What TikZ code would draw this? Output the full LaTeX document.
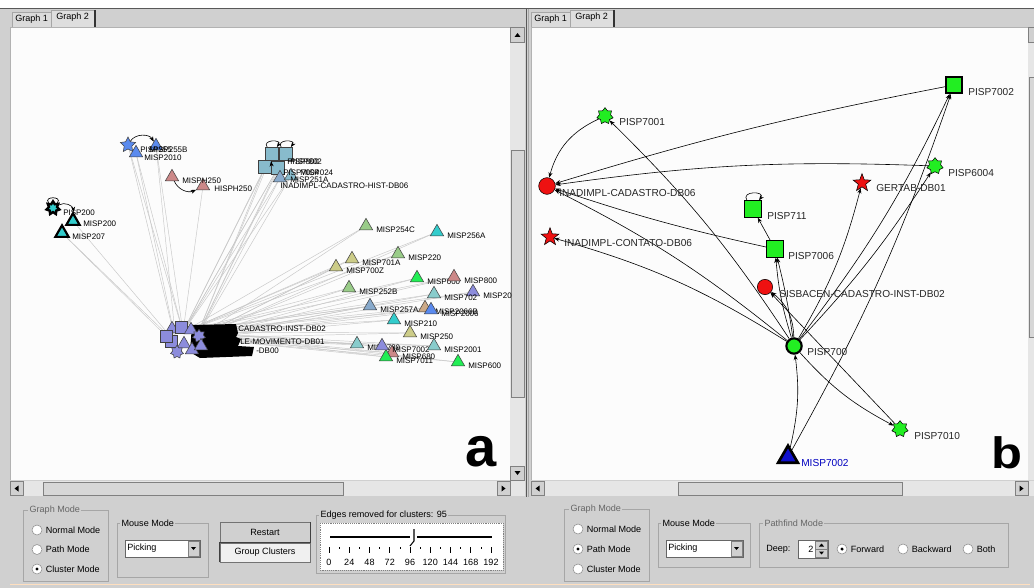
\documentclass[tikz,border=0pt]{standalone}
\usepackage{fontspec}
\setmainfont{Liberation Sans}
\usepackage{graphicx}
\usetikzlibrary{positioning, arrows.meta, shapes.geometric}

\definecolor{winbg}{HTML}{D0D0D0}
\definecolor{trackbg}{HTML}{E6E6E6}
\definecolor{jgreen}{HTML}{22EE22}
\definecolor{jred}{HTML}{EE1111}
\definecolor{jblue}{HTML}{1010CC}
\definecolor{cviolet}{HTML}{8C8CDC}
\definecolor{cblue}{HTML}{5A8AEE}
\definecolor{cpink}{HTML}{CC8888}
\definecolor{cgreen}{HTML}{99CC88}
\definecolor{ccyan}{HTML}{33CCCC}
\definecolor{cteal}{HTML}{88CCCC}
\definecolor{colive}{HTML}{CCCC88}
\definecolor{csteel}{HTML}{88AACC}
\definecolor{ctan}{HTML}{CCAA88}
\definecolor{bgreen}{HTML}{22EE55}
\definecolor{csqc}{HTML}{88BBCC}
\definecolor{edgegray}{HTML}{C8C8C8}

\pgfdeclarelayer{back}
\pgfdeclarelayer{bg}
\pgfsetlayers{back,bg,main}

\begin{document}
\begin{tikzpicture}[x=0.75pt, y=0.75pt,
    gui/.style={font=\fontsize{6.8}{8}\selectfont, inner sep=0pt, anchor=west},
    ttl/.style={gui, fill=winbg, inner xsep=1pt, inner ysep=0.5pt},
    lab/.style={font=\fontsize{7.6}{8}\selectfont, inner sep=0pt, anchor=west, text=black!85},
    slab/.style={font=\fontsize{6}{7}\selectfont, inner sep=0pt, anchor=west},
    gsq/.style={draw, rectangle, fill=jgreen, minimum size=12.5pt, inner sep=0pt},
    gcirc/.style={draw, circle, fill=jgreen, minimum size=11.5pt, inner sep=0pt},
    rcirc/.style={draw, circle, fill=jred, minimum size=12.5pt, inner sep=0pt},
    gstar/.style={draw, star, star points=7, star point ratio=1.45, fill=jgreen, minimum size=12.5pt, inner sep=0pt},
    rstar/.style={draw, star, star points=5, star point ratio=2.4, fill=jred, minimum size=14pt, inner sep=0pt},
    tri/.style={draw=black!75, regular polygon, regular polygon sides=3, minimum size=11.5pt, inner sep=0pt},
    vsq/.style={draw=black!75, rectangle, minimum size=9pt, inner sep=0pt},
    vstar/.style={draw=black!75, star, star points=7, star point ratio=1.5, fill=cviolet, minimum size=10pt, inner sep=0pt},
    arr/.style={-{Stealth[length=4pt, width=3pt]}, line width=0.45pt},
    gedge/.style={draw=edgegray, line width=0.35pt},
    radio/.style={draw=black!45, fill=white, circle, minimum size=7.5pt, inner sep=0pt},
    grp/.style={draw=black!35, line width=0.4pt},
    btn/.style={gui, anchor=center, draw=black!55, fill=winbg, rectangle, minimum width=67.5pt, minimum height=15pt},
]
\useasboundingbox (0,0) rectangle (1034,-588);

% window chrome
\begin{pgfonlayer}{back}
\fill[winbg] (0,0) rectangle (1034,-588);
\fill[white] (0,0) rectangle (1034,-8);
\draw[black!65, line width=0.8pt] (0,-8.5) -- (1034,-8.5);
\fill[white!99!black] (10,-27) rectangle (510,-480);
\fill[white!99!black] (531,-27) rectangle (1028,-480);
\draw[black!30] (10,-480) |- (510,-27);
\draw[black!30] (531,-480) |- (1028,-27);
\foreach \ox in {0,519} {
  \draw[black!35, fill=black!14] (12+\ox,-27) -- (12+\ox,-12) -- (51+\ox,-12) -- (51+\ox,-27);
  \draw[black!35, fill=winbg!70!white] (51+\ox,-27) -- (51+\ox,-10) -- (95+\ox,-10) -- (95+\ox,-27);
  \draw[black!80, line width=0.8pt] (95+\ox,-10) -- (95+\ox,-27);
}
% scroll bars
\fill[trackbg] (510,-27) rectangle (525,-480);
\draw[black!50, fill=winbg] (510.5,-27.5) rectangle (524.5,-42);
\draw[black!50, fill=winbg!85!white] (511,-150) rectangle (524,-397);
\draw[black!50, fill=winbg] (510.5,-466) rectangle (524.5,-480);
\fill (514.5,-37) -- (520.5,-37) -- (517.5,-33) -- cycle;
\fill (514.5,-471) -- (520.5,-471) -- (517.5,-475) -- cycle;
\fill[trackbg] (1028,-27) rectangle (1034,-480);
\draw[black!50, fill=winbg] (1028.5,-27.5) rectangle (1034,-42);
\draw[black!50, fill=winbg!85!white] (1029,-77) rectangle (1034,-337);
\fill[trackbg] (10,-481) rectangle (525,-496);
\draw[black!50, fill=winbg] (10.5,-481.5) rectangle (23,-495.5);
\draw[black!50, fill=winbg!85!white] (43,-482) rectangle (343,-495);
\draw[black!50, fill=winbg] (497,-481.5) rectangle (510,-495.5);
\fill (18.5,-485.5) -- (18.5,-491.5) -- (14.5,-488.5) -- cycle;
\fill (501.5,-485.5) -- (501.5,-491.5) -- (505.5,-488.5) -- cycle;
\fill[trackbg] (531,-481) rectangle (1034,-496);
\draw[black!50, fill=winbg] (531.5,-481.5) rectangle (544,-495.5);
\draw[black!50, fill=winbg!85!white] (678,-482) rectangle (902,-495);
\draw[black!50, fill=winbg] (1015,-481.5) rectangle (1028,-495.5);
\fill (539.5,-485.5) -- (539.5,-491.5) -- (535.5,-488.5) -- cycle;
\fill (1019.5,-485.5) -- (1019.5,-491.5) -- (1023.5,-488.5) -- cycle;
\draw[black!65] (526,-9) -- (526,-497);
\draw[black!35] (528,-9) -- (528,-497);
\draw[orange!25] (10,-584) -- (1030,-584);
\end{pgfonlayer}

\node[gui] (tab1a) at (15,-19.5) {Graph 1};
\node[gui] (tab2a) at (56,-17.5) {Graph 2};
\node[gui] (tab1b) at (534,-19.5) {Graph 1};
\node[gui] (tab2b) at (575,-17.5) {Graph 2};

% ---- graph a ----
\coordinate (hubA) at (183,-332);
\coordinate (hubB) at (196,-338);
\coordinate (hubC) at (176,-343);

\node[star, star points=5, star point ratio=2, draw=black!75, fill=cblue, minimum size=12pt, inner sep=0pt] (b1) at (128,-145) {};
\node[tri, fill=cblue] (b2) at (136,-153) {};
\node[tri, fill=cblue] (b3) at (156,-146) {};
\node[slab] (b1-t) at (140,-150) {PISP255};
\node[slab] (b3-t) at (149,-150) {MISP255B};
\node[slab] (b2-t) at (144,-158) {MISP2010};
\draw[arr] (b1) to[bend left=60] (b3);

\node[tri, fill=cpink] (mh) at (172,-177) {};
\node[tri, fill=cpink] (hh) at (203,-186) {};
\node[slab] (mh-t) at (182,-181) {MISPH250};
\node[slab] (hh-t) at (214,-189) {HISPH250};
\draw[arr] (mh) to[bend right=45] (hh);

\node[vsq, fill=csqc, minimum size=10pt] (sq1) at (272,-154) {};
\node[vsq, fill=csqc, minimum size=10pt] (sq2) at (286,-154) {};
\node[vsq, fill=csqc, minimum size=10pt] (sq3) at (265,-167) {};
\node[vsq, fill=csqc, minimum size=10pt] (sq4) at (278,-168) {};
\node[tri, fill=csteel] (sqt1) at (280,-178) {};
\node[tri, fill=csqc] (sqt2) at (291,-176) {};
\draw[arr] (sq1) to[loop, out=125, in=55, looseness=2.5, min distance=4pt] (sq1);
\draw[arr] (sq2) to[loop, out=125, in=55, looseness=2.5, min distance=4pt] (sq2);
\draw[arr] (sq3) to[bend left=40] (sq4);
\node[slab] (sq1-t) at (287,-162) {PISP800};
\node[slab] (sq2-t) at (290,-162) {PISP802};
\node[slab] (sq4-t) at (283,-173) {PISP7004};
\node[slab] (sqt2-t) at (300,-173) {MISP024};
\node[slab] (sqt1-t) at (290,-180) {MISP251A};
\node[slab] (sq3-t) at (280,-186) {INADIMPL-CADASTRO-HIST-DB06};

\node[star, star points=7, star point ratio=1.6, draw=black, line width=1.8pt, fill=ccyan, minimum size=10pt, inner sep=0pt] (s1) at (53,-208) {};
\draw[line width=0.5pt] (s1) to[loop, out=130, in=50, looseness=2.5, min distance=5pt] (s1);
\node[slab] (s1-t) at (63,-213) {PISP200};
\node[tri, draw=black, line width=1.6pt, fill=ccyan] (s2) at (73,-221) {};
\node[tri, draw=black, line width=1.6pt, fill=ccyan] (s3) at (62,-233) {};
\node[slab] (s2-t) at (83,-224) {MISP200};
\node[slab] (s3-t) at (72,-237) {MISP207};
\draw[arr] (s1) to[bend left=60] (s2);

\foreach \n/\x/\y/\c/\t in {254c/366/226/cgreen/MISP254C, 256a/437/232/ccyan/MISP256A,
    220/398/254/cgreen/MISP220, 701a/352/259/colive/MISP701A, 700z/336/267/colive/MISP700Z,
    000/417/278/bgreen/MISP000, 800/454/277/cpink/MISP800, 20/473/292/cviolet/MISP20,
    252b/349/288/cgreen/MISP252B, 702/434/294/cteal/MISP702, 257a/370/306/csteel/MISP257A,
    2066/425/308/ctan/MISP2066B, 2006/431/310/cblue/MISP2006, 210/394/320/ccyan/MISP210,
    250/410/333/colive/MISP250, 780/357/344/cteal/MISP780, 680/392/353/cpink/MISP680,
    7011/386/357/bgreen/MISP7011, 7002/382/346/cviolet/MISP7002, 2001/434/346/cteal/MISP2001,
    600/458/362/bgreen/MISP600} {
  \node[tri, fill=\c] (t\n) at (\x,-\y) {};
  \node[slab] (t\n-t) at (\x+10,-\y-3.5) {\t};
}

% clustered group: overlapping labels form a dark mass
\fill[black] (192,-325) -- (236,-324) -- (238,-333) -- (236,-337) -- (241,-339) -- (238,-346)
  -- (254,-347) -- (252,-356) -- (200,-358) -- (190,-352) -- cycle;
\node[tri, fill=cviolet] (hv1) at (172,-329) {};
\node[vsq, fill=cviolet] (hv2) at (181,-327) {};
\node[tri, fill=cviolet] (hv3) at (191,-330) {};
\node[vstar] (hv4) at (199,-336) {};
\node[vsq, fill=cviolet] (hv5) at (171,-341) {};
\node[tri, fill=cviolet] (hv6) at (184,-344) {};
\node[vstar] (hv7) at (177,-352) {};
\node[tri, fill=cviolet] (hv8) at (192,-350) {};
\node[vsq, fill=cviolet] (hv9) at (166,-336) {};
\node[tri, fill=cviolet] (hv10) at (201,-346) {};
\node[slab] (hc1) at (238,-329) {CADASTRO-INST-DB02};
\node[slab] (hc2) at (240,-342) {LE-MOVIMENTO-DB01};
\node[slab] (hc3) at (256,-351) {-DB00};

\begin{pgfonlayer}{bg}
\foreach \n in {t254c,t256a,t220,t701a,t700z,t000,t800,t20,t252b,t702,t257a,t2066,t2006,t210,t250,t780,t680,t7011,t7002,t2001,t600} {
  \draw[gedge] (hubA) -- (\n);
  \draw[gedge] (hubB) -- (\n);
}
\foreach \n in {sq1,sq2,sq3,sq4,sqt1,sqt2} {
  \draw[gedge] (hubA) -- (\n);
  \draw[gedge] (hubB) -- (\n);
}
\foreach \n in {b1,b2,b3} {
  \draw[gedge] (hubA) -- (\n);
  \draw[gedge] (hubC) -- (\n);
}
\draw[gedge] (hubC) -- (s2);
\draw[gedge] (hubC) -- (s3);
\draw[gedge] (hv9) -- (s3);
\draw[gedge] (hubA) -- (hh);
\end{pgfonlayer}

\node[font=\fontsize{42}{42}\selectfont\bfseries, inner sep=0pt, anchor=base west] (biga) at (465,-466) {a};

% ---- graph b ----
\node[gsq, line width=1.5pt, minimum size=12pt] (p7002) at (954,-85) {};
\node[gstar] (p7001) at (605,-116) {};
\node[rcirc] (icad) at (547,-186) {};
\node[gstar] (p6004) at (935,-166) {};
\node[rstar] (gert) at (862,-183) {};
\node[gsq] (p711) at (753,-209) {};
\node[rstar] (icon) at (550,-237) {};
\node[gsq] (p7006) at (775,-249) {};
\node[rcirc, minimum size=11.5pt] (sisb) at (765,-287) {};
\node[gcirc, line width=1.6pt] (p700) at (794,-346) {};
\node[gstar] (p7010) at (900,-429) {};
\node[tri, draw=black, fill=jblue, line width=2pt, minimum size=17pt] (m7002) at (788,-457) {};

\node[lab] (p7002-t) at (968,-92) {PISP7002};
\node[lab] (p7001-t) at (619,-122) {PISP7001};
\node[lab] (icad-t) at (559,-193) {INADIMPL-CADASTRO-DB06};
\node[lab] (p6004-t) at (948,-173) {PISP6004};
\node[lab] (gert-t) at (876,-188) {GERTAB-DB01};
\node[lab] (p711-t) at (767,-216) {PISP711};
\node[lab] (icon-t) at (564,-243) {INADIMPL-CONTATO-DB06};
\node[lab] (p7006-t) at (788,-256) {PISP7006};
\node[lab] (sisb-t) at (779,-294) {SISBACEN-CADASTRO-INST-DB02};
\node[lab] (p700-t) at (807,-352) {PISP700};
\node[lab] (p7010-t) at (914,-436) {PISP7010};
\node[lab, text=blue!75!black] (m7002-t) at (801,-463) {MISP7002};

\draw[arr] (p711) to[loop, out=125, in=55, looseness=2.5, min distance=4pt] (p711);
\begin{pgfonlayer}{bg}
\draw[arr] (p7002) to[bend right=3] (icad);
\draw[arr] (p7001) to[bend right=25] (icad);
\draw[arr] (p6004) to[bend right=5] (icad);
\draw[arr] (p7006) to[bend left=3] (icad);
\draw[arr] (p700) to[bend right=6] (icad);
\draw[arr] (p700) to[bend right=8] (icon);
\draw[arr] (p700) to[bend right=6] (p7001);
\draw[arr] (p700) to[bend left=6] (p7006);
\draw[arr] (p700) to[bend right=3] (p7006);
\draw[arr] (p700) to[bend right=25] (sisb);
\draw[arr] (p7006) -- (p711);
\draw[arr] (p700) to[bend right=8] (gert);
\draw[arr] (p700) to[bend right=6] (p7002);
\draw[arr] (p700) to[bend right=5] (p6004);
\draw[arr] (m7002) to[bend right=5] (p7002);
\draw[arr] (p700) to[bend right=10] (p7010);
\draw[arr] (p7010) -- (sisb);
\draw[arr] (m7002) to[bend right=10] (p700);
\end{pgfonlayer}

\node[font=\fontsize{33}{33}\selectfont\bfseries, inner sep=0pt, anchor=base west] (bigb) at (991,-468) {\scalebox{1.15}[1]{b}};

% ---- controls a ----
\draw[grp] (23,-510) rectangle (108,-581);
\node[ttl, text=black!60] (gma) at (28,-510) {Graph Mode};
\node[radio] (ra1) at (37,-530) {};
\node[radio] (ra2) at (37,-549.5) {};
\node[radio] (ra3) at (37,-569) {};
\fill (ra3.center) circle (1.3pt);
\node[gui, right=2.5pt of ra1] (ra1-t) {Normal Mode};
\node[gui, right=2.5pt of ra2] (ra2-t) {Path Mode};
\node[gui, right=2.5pt of ra3] (ra3-t) {Cluster Mode};

\draw[grp] (117,-523) rectangle (208,-577);
\node[ttl] (mma) at (120,-523) {Mouse Mode};
\draw[black!60, fill=white] (125,-540) rectangle (200,-557);
\node[gui] (pka) at (127,-548.5) {Picking};
\draw[black!50, fill=winbg] (188,-541.5) rectangle (199,-556);
\fill (191,-547) -- (196,-547) -- (193.5,-550) -- cycle;

\node[btn] (restart) at (265,-532) {Restart};
\draw[black!75] (restart.south west) -- (restart.south east) -- (restart.north east);
\node[btn, fill=black!6, minimum height=14.25pt] (groupc) at (265,-552.5) {Group Clusters};
\draw[black!75] (groupc.south west) -- (groupc.north west) -- (groupc.north east);

\draw[grp] (316,-515) rectangle (505,-573);
\node[ttl] (era) at (319,-515) {Edges removed for clusters: 95};
\draw[black!50, densely dotted, fill=white] (320,-523) rectangle (503,-570);
\draw[line width=0.8pt] (330,-537) -- (410,-537);
\draw[line width=0.8pt] (417,-537) -- (492,-537);
\draw[line width=0.8pt] (414,-529) -- (414,-541) -- (410,-546);
\foreach \i in {0,...,8}
  \draw[line width=0.5pt] (329+\i*20.25,-547) -- ++(0,-6);
\foreach \i in {0,...,7}
  \draw[line width=0.5pt] (339.1+\i*20.25,-547) -- ++(0,-2);
\foreach \v [count=\j from 0] in {0,24,48,72,96,120,144,168,192}
  \node[gui, anchor=center] (sl\j) at (329+\j*20.25,-562) {\v};

% ---- controls b ----
\draw[grp] (564,-509) rectangle (649,-581);
\node[ttl, text=black!60] (gmb) at (569,-509) {Graph Mode};
\node[radio] (rb1) at (578,-529) {};
\node[radio] (rb2) at (578,-549) {};
\node[radio] (rb3) at (578,-569) {};
\fill (rb2.center) circle (1.3pt);
\node[gui, right=2.5pt of rb1] (rb1-t) {Normal Mode};
\node[gui, right=2.5pt of rb2] (rb2-t) {Path Mode};
\node[gui, right=2.5pt of rb3] (rb3-t) {Cluster Mode};

\draw[grp] (658,-523) rectangle (750,-567);
\node[ttl] (mmb) at (661,-523) {Mouse Mode};
\draw[black!60, fill=white] (666,-540) rectangle (743,-557);
\node[gui] (pkb) at (668,-548.5) {Picking};
\draw[black!50, fill=winbg] (731,-541.5) rectangle (742,-556);
\fill (734,-547) -- (739,-547) -- (736.5,-550) -- cycle;

\draw[grp] (759,-523) rectangle (1008,-567);
\node[ttl, text=black!60] (pfm) at (763,-523) {Pathfind Mode};
\node[gui] (deep) at (766,-549) {Deep:};
\draw[black!60, fill=white] (798,-540) rectangle (828,-558);
\node[gui] (deepv) at (808,-549) {2};
\draw[black!50, fill=winbg] (815.5,-541) rectangle (827,-549);
\draw[black!50, fill=winbg] (815.5,-549) rectangle (827,-557);
\fill (819,-546.5) -- (824,-546.5) -- (821.5,-543.5) -- cycle;
\fill (819,-551.5) -- (824,-551.5) -- (821.5,-554.5) -- cycle;
\node[radio] (rf) at (842,-549) {};
\fill (rf.center) circle (1.3pt);
\node[radio] (rbw) at (903,-549) {};
\node[radio] (rbo) at (968,-549) {};
\node[gui, right=2.5pt of rf] (rf-t) {Forward};
\node[gui, right=2.5pt of rbw] (rbw-t) {Backward};
\node[gui, right=2.5pt of rbo] (rbo-t) {Both};
\end{tikzpicture}
\end{document}
